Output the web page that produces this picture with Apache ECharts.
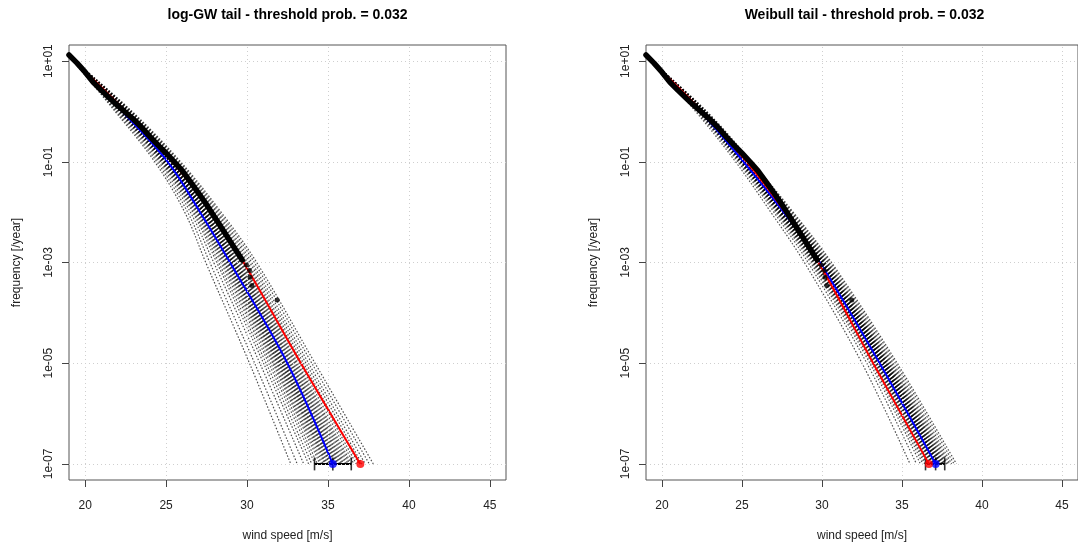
<!DOCTYPE html>
<html>
<head>
<meta charset="utf-8">
<script src="https://cdn.jsdelivr.net/npm/echarts@6/dist/echarts.min.js"></script>
<style>
  html, body { margin: 0; padding: 0; background: #ffffff; }
  #chart { width: 1078px; height: 547px; }
</style>
</head>
<body>
<div id="chart"></div>
<script>
// ---- data -------------------------------------------------------------
// axis ticks
const xTicks = [20, 25, 30, 35, 40, 45];
const yTicks = [1e-7, 1e-5, 1e-3, 1e-1, 1e1];
const yTickLabels = ['1e-07', '1e-05', '1e-03', '1e-01', '1e+01'];

// frequency levels [/year] at which the tail curves are tabulated
const levels = [12.6, 1, 1e-1, 1e-2, 1e-3, 1e-5, 1e-7];
// every bootstrap curve starts from the same point at the first level
const bootStart = 19.0;

// empirical exceedance frequencies of the observed wind speeds
const obsSpeed = [19.0, 19.5, 20.0, 20.5, 21.0, 21.5, 22.0, 22.5, 23.0, 23.5, 24.0, 24.5,
  25.0, 25.5, 26.0, 26.5, 27.0, 27.5, 28.0, 28.5, 29.0, 29.4, 29.7];
const obsFreq = [13.2, 9.12, 6.03, 3.80, 2.63, 1.86, 1.32, 0.955, 0.692, 0.479, 0.316, 0.214,
  0.148, 0.100, 0.0661, 0.0398, 0.0240, 0.0141, 0.00794, 0.00447, 0.00251, 0.00158, 0.00112];
// largest observations
const topSpeed = [29.96, 30.15, 30.19, 30.30, 31.86];
const topFreq = [8.9e-4, 6.9e-4, 5.1e-4, 3.5e-4, 1.8e-4];

// log-GW tail: fitted curve (red), bootstrap median (blue), bootstrap curves
const gwFit = [19.0, 22.5, 25.4, 27.8, 29.79, 33.33, 37.0];
const gwMedian = [19.0, 22.3, 25.1, 27.1, 28.95, 32.49, 35.3];
const gwBoot = [
  [21.85, 24.30, 26.15, 27.45, 30.15, 32.70],
  [21.93, 24.43, 26.33, 27.70, 30.47, 33.10],
  [22.01, 24.55, 26.50, 27.94, 30.79, 33.50],
  [22.08, 24.65, 26.64, 28.13, 31.02, 33.80],
  [22.12, 24.71, 26.72, 28.25, 31.18, 34.00],
  [22.16, 24.77, 26.81, 28.38, 31.34, 34.20],
  [22.19, 24.82, 26.88, 28.47, 31.46, 34.35],
  [22.22, 24.86, 26.94, 28.56, 31.58, 34.50],
  [22.24, 24.90, 26.99, 28.62, 31.66, 34.60],
  [22.26, 24.93, 27.03, 28.69, 31.74, 34.70],
  [22.28, 24.96, 27.08, 28.75, 31.82, 34.80],
  [22.30, 24.98, 27.11, 28.80, 31.88, 34.88],
  [22.31, 25.01, 27.14, 28.84, 31.94, 34.95],
  [22.33, 25.03, 27.17, 28.88, 31.99, 35.02],
  [22.34, 25.05, 27.21, 28.93, 32.06, 35.10],
  [22.36, 25.07, 27.24, 28.97, 32.10, 35.16],
  [22.37, 25.09, 27.26, 29.01, 32.15, 35.22],
  [22.38, 25.11, 27.29, 29.04, 32.20, 35.28],
  [22.39, 25.13, 27.31, 29.08, 32.25, 35.34],
  [22.41, 25.15, 27.34, 29.12, 32.29, 35.40],
  [22.42, 25.17, 27.37, 29.15, 32.34, 35.46],
  [22.43, 25.18, 27.39, 29.19, 32.39, 35.52],
  [22.44, 25.20, 27.42, 29.23, 32.44, 35.58],
  [22.46, 25.23, 27.45, 29.27, 32.49, 35.65],
  [22.47, 25.25, 27.48, 29.32, 32.55, 35.72],
  [22.49, 25.27, 27.52, 29.36, 32.61, 35.80],
  [22.50, 25.30, 27.55, 29.41, 32.68, 35.88],
  [22.52, 25.32, 27.59, 29.46, 32.74, 35.96],
  [22.54, 25.35, 27.63, 29.52, 32.81, 36.05],
  [22.56, 25.38, 27.67, 29.58, 32.89, 36.15],
  [22.58, 25.41, 27.72, 29.64, 32.97, 36.25],
  [22.60, 25.45, 27.76, 29.70, 33.05, 36.35],
  [22.62, 25.48, 27.80, 29.77, 33.13, 36.45],
  [22.65, 25.52, 27.87, 29.86, 33.25, 36.60],
  [22.68, 25.57, 27.94, 29.95, 33.37, 36.75],
  [22.71, 25.62, 28.00, 30.04, 33.49, 36.90],
  [22.76, 25.68, 28.09, 30.17, 33.64, 37.10],
  [22.80, 25.74, 28.18, 30.29, 33.80, 37.30],
  [22.85, 25.82, 28.29, 30.45, 34.00, 37.55],
  [22.90, 25.90, 28.40, 30.60, 34.20, 37.80]
];
// bootstrap interval of the 1e-07 quantile: lower, median, upper
const gwInterval = [34.17, 35.3, 36.44];

// Weibull tail
const wbFit = [19.0, 22.5, 25.3, 27.7, 29.78, 33.2, 36.68];
const wbMedian = [19.0, 22.4, 25.1, 27.6, 29.87, 33.6, 37.1];
const wbBoot = [
  [22.10, 24.60, 26.80, 28.90, 32.50, 35.50],
  [22.20, 24.74, 26.99, 29.13, 32.80, 35.90],
  [22.26, 24.82, 27.11, 29.28, 32.99, 36.15],
  [22.29, 24.88, 27.19, 29.37, 33.11, 36.30],
  [22.32, 24.92, 27.24, 29.44, 33.20, 36.42],
  [22.34, 24.94, 27.28, 29.49, 33.26, 36.50],
  [22.36, 24.97, 27.32, 29.53, 33.32, 36.58],
  [22.38, 25.00, 27.36, 29.57, 33.37, 36.65],
  [22.39, 25.02, 27.38, 29.61, 33.42, 36.71],
  [22.41, 25.04, 27.41, 29.64, 33.46, 36.77],
  [22.42, 25.06, 27.44, 29.67, 33.50, 36.82],
  [22.43, 25.07, 27.46, 29.70, 33.54, 36.87],
  [22.44, 25.09, 27.48, 29.73, 33.57, 36.91],
  [22.45, 25.10, 27.50, 29.75, 33.60, 36.95],
  [22.46, 25.11, 27.52, 29.77, 33.63, 36.99],
  [22.47, 25.13, 27.54, 29.80, 33.66, 37.03],
  [22.48, 25.14, 27.55, 29.81, 33.68, 37.06],
  [22.48, 25.15, 27.57, 29.83, 33.71, 37.09],
  [22.49, 25.16, 27.58, 29.85, 33.73, 37.12],
  [22.50, 25.17, 27.60, 29.87, 33.75, 37.15],
  [22.51, 25.18, 27.61, 29.88, 33.77, 37.18],
  [22.51, 25.19, 27.63, 29.90, 33.80, 37.21],
  [22.52, 25.20, 27.64, 29.92, 33.82, 37.24],
  [22.53, 25.21, 27.65, 29.94, 33.84, 37.27],
  [22.53, 25.22, 27.67, 29.96, 33.87, 37.30],
  [22.54, 25.23, 27.69, 29.98, 33.90, 37.34],
  [22.55, 25.25, 27.71, 30.00, 33.93, 37.38],
  [22.56, 25.26, 27.73, 30.03, 33.96, 37.42],
  [22.57, 25.28, 27.75, 30.05, 33.99, 37.46],
  [22.58, 25.29, 27.77, 30.07, 34.02, 37.50],
  [22.59, 25.31, 27.79, 30.10, 34.06, 37.55],
  [22.61, 25.32, 27.81, 30.13, 34.09, 37.60],
  [22.62, 25.34, 27.84, 30.17, 34.14, 37.66],
  [22.64, 25.37, 27.87, 30.20, 34.18, 37.72],
  [22.66, 25.39, 27.91, 30.25, 34.24, 37.80],
  [22.67, 25.42, 27.95, 30.30, 34.31, 37.88],
  [22.70, 25.46, 28.00, 30.35, 34.38, 37.98],
  [22.73, 25.50, 28.06, 30.42, 34.47, 38.10],
  [22.76, 25.55, 28.13, 30.51, 34.59, 38.25],
  [22.80, 25.60, 28.20, 30.60, 34.70, 38.40]
];
const wbInterval = [36.47, 37.1, 37.67];

const titles = ['log-GW tail - threshold prob. = 0.032', 'Weibull tail - threshold prob. = 0.032'];

// ---- layout -------------------------------------------------------------
const FONT = '"Liberation Sans", Arial, Helvetica, sans-serif';
const panels = [
  { left: 69, top: 45, width: 437, height: 436 },
  { left: 646, top: 45, width: 437, height: 436 }
];
const X_MIN = 19, X_MAX = 46;
const Y_MIN = -7.32, Y_MAX = 1.32;   // log10 of frequency

const lg = Math.log10;
const curve = speeds => speeds.map((s, i) => [s, lg(levels[i])]);

function axesFor(i) {
  const x = {
    type: 'value', gridIndex: i, min: X_MIN, max: X_MAX,
    name: 'wind speed [m/s]', nameLocation: 'middle', nameGap: 50,
    nameTextStyle: { fontFamily: FONT, fontSize: 12, color: '#222' },
    axisLine: { show: false, onZero: false },
    axisTick: { show: true, customValues: xTicks, length: 7, lineStyle: { color: '#444' } },
    axisLabel: { customValues: xTicks, margin: 20, fontFamily: FONT, fontSize: 12, color: '#222' },
    splitLine: { show: false }
  };
  const yVals = yTicks.map(lg);
  const y = {
    type: 'value', gridIndex: i, min: Y_MIN, max: Y_MAX,
    name: 'frequency [/year]', nameLocation: 'middle', nameGap: 46, nameRotate: 90,
    nameTextStyle: { fontFamily: FONT, fontSize: 12, color: '#222' },
    axisLine: { show: false, onZero: false },
    axisTick: { show: true, customValues: yVals, length: 7, lineStyle: { color: '#444' } },
    axisLabel: {
      customValues: yVals, rotate: 90, margin: 14, fontFamily: FONT, fontSize: 12, color: '#222',
      formatter: v => yTickLabels[yVals.findIndex(t => Math.abs(t - v) < 1e-6)]
    },
    splitLine: { show: false }
  };
  return [x, y];
}

function seriesFor(i, fit, median, boot, interval) {
  const ax = { xAxisIndex: i, yAxisIndex: i };
  const out = [];
  // dotted background grid
  out.push(Object.assign({
    type: 'line', data: [], z: 1, silent: true,
    markLine: {
      silent: true, symbol: ['none', 'none'], label: { show: false },
      lineStyle: { color: '#cfcfcf', width: 1, type: [1, 3] },
      data: xTicks.map(v => ({ xAxis: v })).concat(yTicks.map(v => ({ yAxis: lg(v) })))
    }
  }, ax));
  // bootstrap curves
  boot.forEach(b => out.push(Object.assign({
    type: 'line', data: curve([bootStart].concat(b)), showSymbol: false, smooth: 0.35, z: 2, silent: true,
    lineStyle: { color: 'rgba(0,0,0,0.7)', width: 1.2, type: [1.5, 1.8] }
  }, ax)));
  // bootstrap interval at 1e-07
  const yq = lg(levels[levels.length - 1]);
  out.push(Object.assign({
    type: 'line', data: [[interval[0], yq], [interval[2], yq]], showSymbol: false, z: 3,
    lineStyle: { color: '#000', width: 2 }
  }, ax));
  out.push(Object.assign({
    type: 'scatter', data: interval.map(v => [v, yq]), symbol: 'rect', symbolSize: [1.6, 13], z: 3,
    itemStyle: { color: '#000' }
  }, ax));
  // bootstrap median (blue) and fitted tail (red)
  [[median, '#0000ff'], [fit, '#ff0000']].forEach(([c, col]) => {
    out.push(Object.assign({
      type: 'line', data: curve(c), showSymbol: false, smooth: 0.35, z: 4,
      lineStyle: { color: col, width: 2 }
    }, ax));
  });
  // empirical frequencies
  out.push(Object.assign({
    type: 'line', data: obsSpeed.map((s, k) => [s, lg(obsFreq[k])]), showSymbol: false, z: 5,
    lineStyle: { color: '#000', width: 5.5, cap: 'round', join: 'round' }
  }, ax));
  out.push(Object.assign({
    type: 'scatter', data: topSpeed.map((s, k) => [s, lg(topFreq[k])]), symbolSize: 5, z: 5,
    itemStyle: { color: '#000' }
  }, ax));
  // 1e-07 quantile of each curve
  [[median, '#0000ff'], [fit, '#ff0000']].forEach(([c, col]) => {
    out.push(Object.assign({
      type: 'scatter', data: [[c[c.length - 1], yq]], symbolSize: 8, z: 6,
      itemStyle: { color: col }
    }, ax));
  });
  return out;
}

const chart = echarts.init(document.getElementById('chart'), null, { renderer: 'canvas' });
const xAxes = [], yAxes = [];
panels.forEach((p, i) => { const [x, y] = axesFor(i); xAxes.push(x); yAxes.push(y); });

chart.setOption({
  animation: false,
  backgroundColor: '#ffffff',
  grid: panels.map(p => Object.assign({ show: true, borderColor: '#555', borderWidth: 1, backgroundColor: 'transparent' }, p)),
  xAxis: xAxes,
  yAxis: yAxes,
  graphic: panels.map((p, i) => ({
    type: 'text', x: p.left + p.width / 2, y: 15,
    style: { text: titles[i], font: 'bold 14px ' + FONT, fill: '#000', textAlign: 'center', textVerticalAlign: 'middle' }
  })),
  series: seriesFor(0, gwFit, gwMedian, gwBoot, gwInterval)
    .concat(seriesFor(1, wbFit, wbMedian, wbBoot, wbInterval))
});
</script>
</body>
</html>
